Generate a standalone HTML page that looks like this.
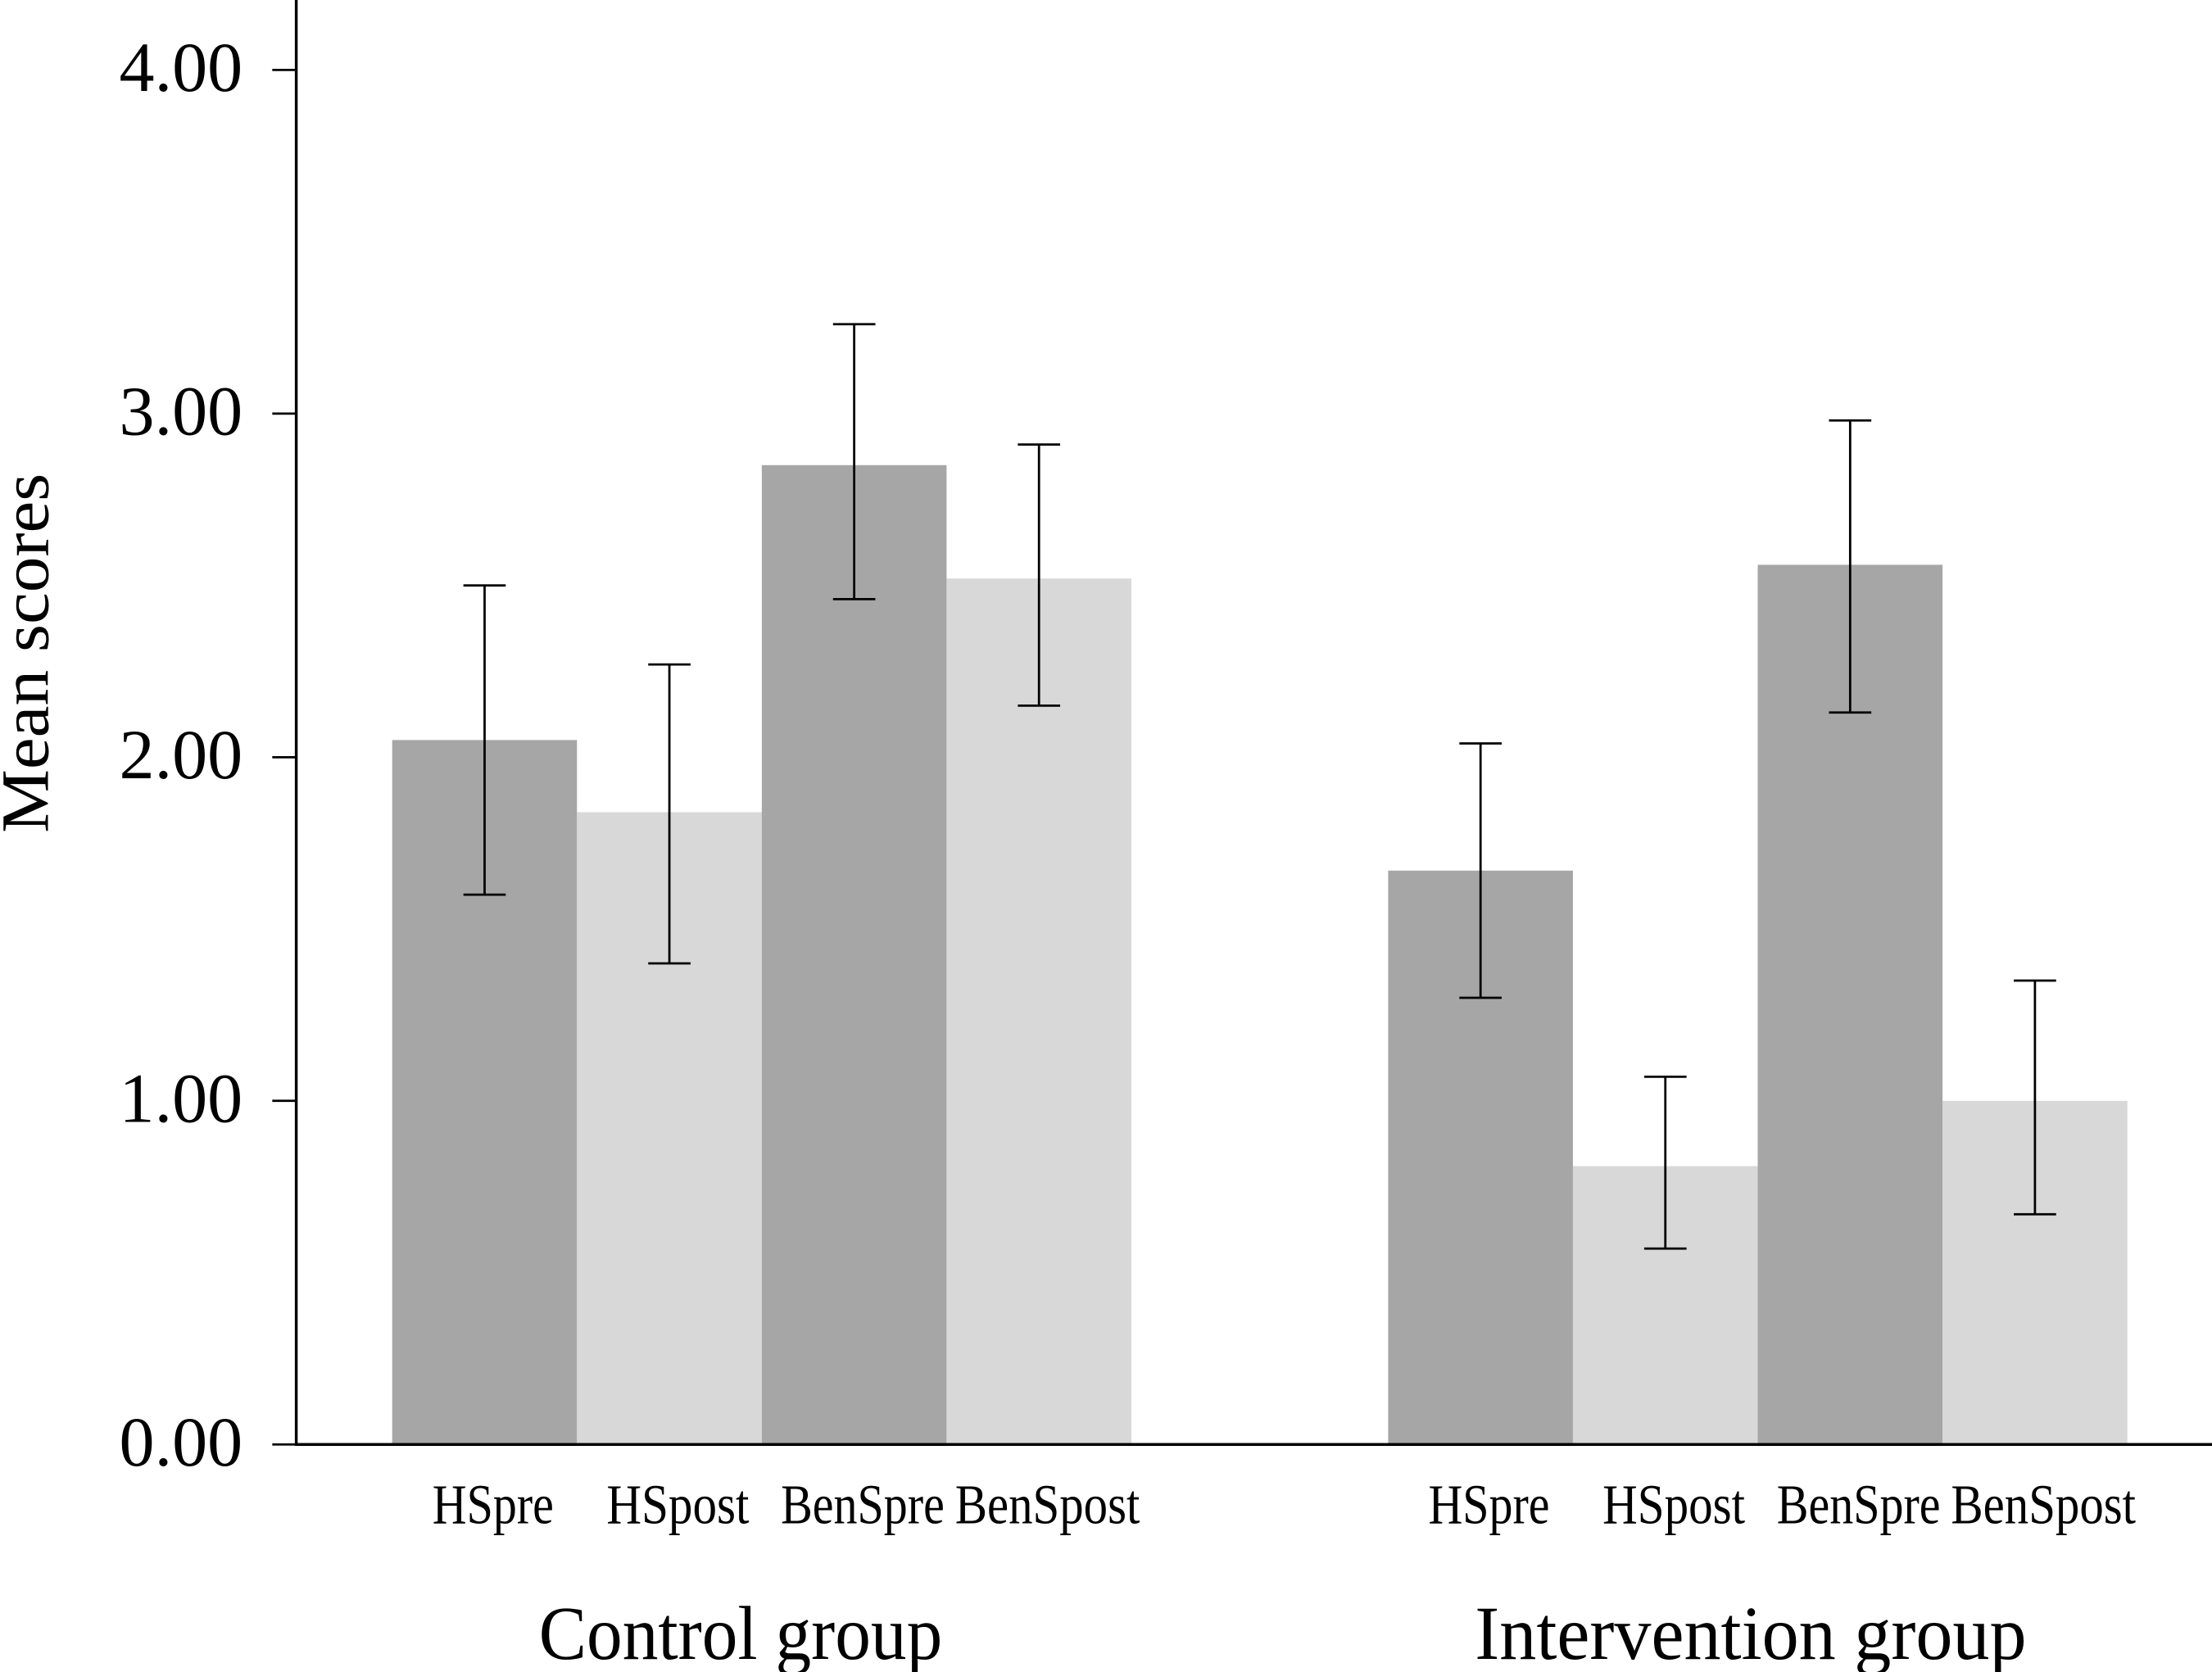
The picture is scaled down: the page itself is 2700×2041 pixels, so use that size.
<!DOCTYPE html>
<html><head><meta charset="utf-8"><style>html,body{margin:0;padding:0;background:#fff}svg{display:block}</style></head>
<body>
<svg id="chart" width="2700" height="2041" viewBox="0 0 1568 1185.3" xmlns="http://www.w3.org/2000/svg"></svg>
<script>
const categories = ["HSpre","HSpost","BenSpre","BenSpost"];
const groups = ["Control group","Intervention group"];
const controlMeans = [2.05, 1.84, 2.85, 2.52];
const controlLow = [1.60, 1.40, 2.46, 2.15];
const controlHigh = [2.50, 2.27, 3.26, 2.91];
const interventionMeans = [1.67, 0.81, 2.56, 1.00];
const interventionLow = [1.30, 0.57, 2.13, 0.67];
const interventionHigh = [2.04, 1.07, 2.98, 1.35];
const yTicks = [0, 1, 2, 3, 4];
const yTickLabels = ["0.00","1.00","2.00","3.00","4.00"];

const NS = "http://www.w3.org/2000/svg";
const svg = document.getElementById("chart");
const x0 = 210, yBase = 1024, unit = 243.6, barW = 131;
const groupStart = [278, 984];
function y(v){ return yBase - v*unit; }
function xBar(g,i){ return groupStart[g] + i*barW; }
function mk(tag, attrs){ const e=document.createElementNS(NS,tag); for(const k in attrs) e.setAttribute(k,attrs[k]); svg.appendChild(e); return e; }

const colors = ["#a6a6a6","#d8d8d8","#a6a6a6","#d8d8d8"];
const means=[controlMeans,interventionMeans], lows=[controlLow,interventionLow], highs=[controlHigh,interventionHigh];
for(let g=0; g<2; g++){
  for(let i=0;i<4;i++){
    const r = mk("rect",{x:xBar(g,i), y:y(means[g][i]), width:barW, height:yBase-y(means[g][i]), fill:colors[i]});
    
    
    const cx = xBar(g,i)+barW/2;
    const eb = mk("path",{d:`M${cx},${y(highs[g][i])}V${y(lows[g][i])}M${cx-15},${y(highs[g][i])}H${cx+15}M${cx-15},${y(lows[g][i])}H${cx+15}`, stroke:"#000","stroke-width":1.6, fill:"none"});
    
    
    const t = mk("text",{x:cx+6, y:1080, "text-anchor":"middle", "font-family":"Liberation Serif, serif", "font-size":40, textLength:(categories[i].length*15+11), lengthAdjust:"spacingAndGlyphs"});
    t.textContent = categories[i];
    
    
  }
  const gl = mk("text",{x:[525,1241][g], y:1176, "text-anchor":"middle", "font-family":"Liberation Serif, serif", "font-size":54, textLength:[286,391][g], lengthAdjust:"spacingAndGlyphs"});
  gl.textContent = groups[g];
  
  
}
const ax = mk("path",{d:`M${x0},0V${yBase}H1568`, stroke:"#000","stroke-width":2, fill:"none"});


for(let k=0;k<yTicks.length;k++){
  const tk = mk("line",{x1:x0-17,x2:x0,y1:y(yTicks[k]),y2:y(yTicks[k]),stroke:"#000","stroke-width":1.6});
  
  
  const tl = mk("text",{x:172, y:y(yTicks[k])+15, "text-anchor":"end", "font-family":"Liberation Serif, serif", "font-size":50});
  tl.textContent = yTickLabels[k];
  
  
}
const yt = mk("text",{x:0,y:0,transform:"translate(34,463) rotate(-90)","text-anchor":"middle","font-family":"Liberation Serif, serif","font-size":48,textLength:255,lengthAdjust:"spacingAndGlyphs"});
yt.textContent = "Mean scores";


</script>
</body></html>
